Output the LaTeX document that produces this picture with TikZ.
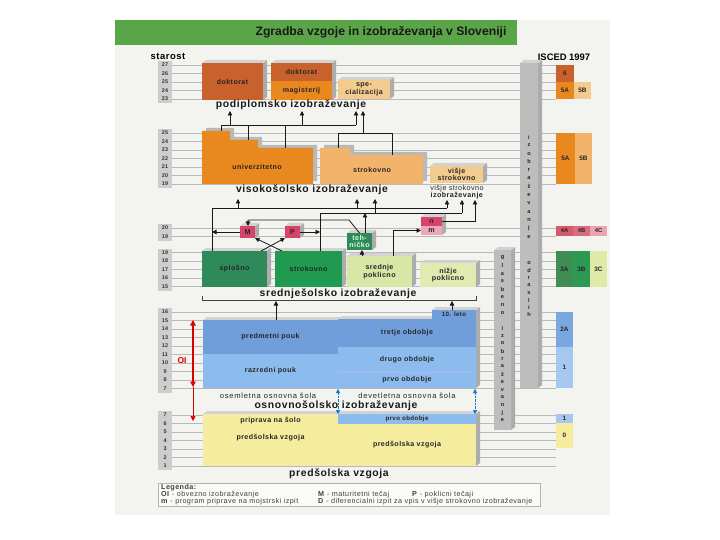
\documentclass[tikz,border=0pt]{standalone}
\usepackage{fontspec}
\setmainfont{Liberation Sans}
\newfontfamily\lbfont[LetterSpace=6]{Liberation Sans}
\newfontfamily\wdfont[LetterSpace=10]{Liberation Sans}
\usetikzlibrary{arrows.meta,calc}
\definecolor{scan}{HTML}{F3F3EF}
\definecolor{titlegreen}{HTML}{5AA548}
\definecolor{dko}{HTML}{C9612C}
\definecolor{oro}{HTML}{E9881F}
\definecolor{tan}{HTML}{F3CB8E}
\definecolor{lor}{HTML}{F1B46A}
\definecolor{pnk}{HTML}{D8436A}
\definecolor{pnkl}{HTML}{EEA6BA}
\definecolor{gdk}{HTML}{2F8A5A}
\definecolor{gmd}{HTML}{1F9A50}
\definecolor{yg}{HTML}{D8E6A6}
\definecolor{ygl}{HTML}{E0EBB2}
\definecolor{bdk}{HTML}{6F9EDB}
\definecolor{blt}{HTML}{8CBCEE}
\definecolor{ylw}{HTML}{F6EC9E}
\definecolor{barg}{HTML}{BDBDBD}
\definecolor{ageg}{HTML}{CDCDCD}
\definecolor{isb}{HTML}{A6C8F0}
\definecolor{isa}{HTML}{7AA7E0}
\definecolor{fA}{HTML}{D45A6E}
\definecolor{fB}{HTML}{D86D80}
\definecolor{fC}{HTML}{E9A3B3}
\definecolor{tA}{HTML}{3F8C55}
\definecolor{tB}{HTML}{2C9A52}
\definecolor{tC}{HTML}{DFE9A8}
\newcommand{\bxf}{\lbfont\bfseries\fontsize{7.1}{7.6}\selectfont}
\newcommand{\bigf}{\lbfont\bfseries\fontsize{10.4}{12}\selectfont}
\newcommand{\smf}{\lbfont\fontsize{7.2}{7.6}\selectfont}
\newcommand{\osf}{\wdfont\fontsize{7.6}{8}\selectfont}
\newcommand{\sideface}[4]{%
  \fill[gray!65] (#3,#2) -- (#3+4,#2-3) -- (#3+4,#4-3) -- (#3,#4) -- cycle;
  \fill[gray!35] (#1,#2) -- (#1+4,#2-3) -- (#3+4,#2-3) -- (#3,#2) -- cycle;}
\newcommand{\flatbox}[7]{%
  \node[bx, fill=#6, minimum width={(#4-(#2))*1pt}, minimum height={(#5-(#3))*1pt}] (#1) at (#2,#3) {#7};}
\newcommand{\bbox}[7]{\sideface{#2}{#3}{#4}{#5}\flatbox{#1}{#2}{#3}{#4}{#5}{#6}{#7}}
\tikzset{
  bx/.style={inner sep=0pt, outer sep=0pt, anchor=north west, align=center, font=\bxf, text=black!85},
  lbl/.style={inner sep=0pt, align=center, font=\bxf, text=black!85},
  big/.style={inner sep=0pt, font=\bigf, text=black!90},
  agef/.style={inner sep=0pt, font=\bfseries\fontsize{5.4}{6}\selectfont, text=black!80},
  grid/.style={draw=gray!55, line width=0.4pt},
  ln/.style={line width=0.8pt, draw=black!90},
  ar/.style={line width=0.8pt, draw=black!90, -{Triangle[length=4.5pt,width=4.5pt]}},
  vl/.style={inner sep=0pt, font=\bfseries\fontsize{5.6}{6}\selectfont, text=black!85},
  isf/.style={font=\bfseries\fontsize{6}{7}\selectfont},
  lgf/.style={inner sep=0pt, anchor=west, font=\smf, text=black!75}
}
\begin{document}
\begin{tikzpicture}[x=1pt,y=-1pt]
\useasboundingbox (0,0) rectangle (720,540);
\fill[white] (0,0) rectangle (720,540);
\fill[scan] (115,20) rectangle (610,515);
\fill[titlegreen] (115,20) rectangle (517,45);
\node[inner sep=0pt, font=\bfseries\fontsize{12.2}{14}\selectfont, text=black!90] (title) at (381,32.5) {Zgradba vzgoje in izobraževanja v Sloveniji};
\node[inner sep=0pt, font=\lbfont\bfseries\fontsize{9.4}{10}\selectfont] (starost) at (168,56.5) {starost};
\node[inner sep=0pt, font=\bfseries\fontsize{9.4}{10}\selectfont] (isced) at (564,57) {ISCED 1997};

% ---------- age columns and row lines
\fill[ageg] (158,61) rectangle (172,103);
\foreach \a [count=\i from 0] in {27,26,25,24,23}{
  \pgfmathsetmacro\yy{65+8.5*\i}
  \draw[grid] (172,\yy) -- (556,\yy);
  \node[agef] (ga\a) at (165,\yy) {\a};}
\fill[ageg] (158,129) rectangle (172,188);
\foreach \a [count=\i from 0] in {25,24,23,22,21,20,19}{
  \pgfmathsetmacro\yy{133+8.5*\i}
  \draw[grid] (172,\yy) -- (556,\yy);
  \node[agef] (gb\a) at (165,\yy) {\a};}
\fill[ageg] (158,224) rectangle (172,240.5);
\foreach \a [count=\i from 0] in {20,19}{
  \pgfmathsetmacro\yy{228+8.5*\i}
  \draw[grid] (172,\yy) -- (556,\yy);
  \node[agef] (gc\a) at (165,\yy) {\a};}
\fill[ageg] (158,248.5) rectangle (172,290.5);
\foreach \a [count=\i from 0] in {19,18,17,16,15}{
  \pgfmathsetmacro\yy{252.5+8.5*\i}
  \draw[grid] (172,\yy) -- (556,\yy);
  \node[agef] (gd\a) at (165,\yy) {\a};}
\fill[ageg] (158,308) rectangle (172,392.5);
\foreach \a [count=\i from 0] in {16,15,14,13,12,11,10,9,8,7}{
  \pgfmathsetmacro\yy{312+8.5*\i}
  \draw[grid] (172,\yy) -- (556,\yy);
  \node[agef] (ge\a) at (165,\yy) {\a};}
\fill[ageg] (158,411) rectangle (172,470);
\foreach \a [count=\i from 0] in {7,6,5,4,3,2,1}{
  \pgfmathsetmacro\yy{415+8.5*\i}
  \draw[grid] (172,\yy) -- (556,\yy);
  \node[agef] (gf\a) at (165,\yy) {\a};}

% ---------- podiplomsko
\bbox{dok1}{202}{63}{263}{100}{dko}{doktorat}
\bbox{mag}{271}{81}{332}{100}{oro}{magisterij}
\bbox{dok2}{271}{63}{332}{81}{dko}{doktorat}
\bbox{spec}{338}{80}{390}{99}{tan}{spe-\\cializacija}
\node[big] (podipl) at (291,104.5) {podiplomsko izobraževanje};

% ---------- visokošolsko
\fill[gray!55, shift={(4,-3)}] (202,184) -- (202,131) -- (230,131) -- (230,140) -- (258,140) -- (258,148) -- (313,148) -- (313,184) -- cycle;
\fill[oro] (202,184) -- (202,131) -- (230,131) -- (230,140) -- (258,140) -- (258,148) -- (313,148) -- (313,184) -- cycle;
\node[lbl] (univ) at (257,167) {univerzitetno};
\fill[gray!55, shift={(4,-3)}] (320,184) -- (320,148) -- (350,148) -- (350,155) -- (423,155) -- (423,184) -- cycle;
\fill[lor] (320,184) -- (320,148) -- (350,148) -- (350,155) -- (423,155) -- (423,184) -- cycle;
\node[lbl] (strok) at (372,170) {strokovno};
\bbox{visje}{430}{166}{483}{183}{tan}{višje\\strokovno}
\node[lbl, font=\smf] (visjelbl) at (457,192) {višje strokovno\\[-0.5pt]\textbf{izobraževanje}};
\node[big] (visok) at (312,190) {visokošolsko izobraževanje};

% connectors to podiplomsko
\coordinate (pA) at (230,111); \coordinate (pB) at (302,111);
\coordinate (pC) at (356,111); \coordinate (pD) at (363,111);
\coordinate (u1) at (221,131); \coordinate (u2) at (248,140); \coordinate (u3) at (285,148);
\coordinate (hU) at (221,125);
\draw[ln] (u1) -- (hU) -- (pC |- hU);
\draw[ln] (u2) -- (u2 |- hU);
\draw[ln] (u3) -- (u3 |- hU);
\draw[ar] (pA |- hU) -- (pA);
\draw[ar] (pB |- hU) -- (pB);
\draw[ar] (pC |- hU) -- (pC);
\coordinate (s1) at (338,148); \coordinate (s2) at (392,155); \coordinate (hS) at (338,133);
\draw[ln] (s1) -- (hS) -- (s2 |- hS) -- (s2);
\draw[ar] (pD |- hS) -- (pD);

% ---------- srednješolsko
\bbox{M}{240}{226}{255}{238}{pnk}{M}
\bbox{P}{285}{226}{300}{238}{pnk}{P}
\bbox{splosno}{202}{251}{267}{287}{gdk}{splošno}
\bbox{sstrok}{275}{251}{342}{287}{gmd}{strokovno}
\bbox{tehn}{347}{233}{372}{250}{gdk}{\textcolor{white!85!green}{teh-}\\\textcolor{white!85!green}{ničko}}
\bbox{sredp}{347}{256}{412}{287}{yg}{srednje\\poklicno}
\bbox{nizje}{420}{263}{476}{287}{ygl}{nižje\\poklicno}
\sideface{421}{217}{442}{235}
\flatbox{nn}{421}{217}{442}{226}{pnk}{n}
\flatbox{mm}{421}{226}{442}{235}{pnkl}{m}
\node[big] (sredn) at (338,294) {srednješolsko izobraževanje};

\coordinate (vA) at (238,199); \coordinate (vB) at (357,199); \coordinate (vC) at (375,199);
\coordinate (vD) at (447,200); \coordinate (vE) at (462,200); \coordinate (vF) at (475,200);
\coordinate (h1a) at (212,208); \coordinate (h1b) at (447,208);
\coordinate (h2a) at (320,213); \coordinate (h2b) at (462,213);
\draw[ln] (splosno.north -| h1a) -- (h1a) -- (h1b);
\draw[ar] (vA |- h1a) -- (vA);
\draw[ar] (vB |- h1a) -- (vB);
\draw[ar] (h1b) -- (vD);
\draw[ln] (sstrok.north -| h2a) -- (h2a) -- (h2b);
\draw[ar] (vC |- h2a) -- (vC);
\draw[ar] (h2b) -- (vE);
\coordinate (t1) at (365,213);
\draw[ar] (tehn.north -| t1) -- (t1);
\draw[ar] (nn.east) -| (vF);
\coordinate (sm) at (393,230);
\draw[ar] (sredp.north -| sm) |- (mm.west);
\coordinate (x362) at (362,250);
\draw[ar] (sredp.north -| x362) -- (x362);
\coordinate (tm1) at (349,220); \coordinate (tm2) at (248,220);
\draw[ar] (tehn.north) -- (tm1) -- (tm2) -- (M.north -| tm2);
\draw[ar] (M.west) -- (M.west -| h1a);
\draw[ar] (P.east) -- (P.east -| h2a);
\draw[ar] ($(splosno.north east)+(-6,0)$) -- (P.south west);
\draw[ar] ($(sstrok.north west)+(7,0)$) -- (M.south east);
\coordinate (brL) at (202,296); \coordinate (brR) at (476,296);
\draw[line width=0.7pt, draw=black!75] (brL) -- ++(0,4) -- ($(brR)+(0,4)$) -- (brR);
\coordinate (br1) at (276,301); \coordinate (br2) at (452,301);

% ---------- osnovnošolsko
\sideface{203}{320}{338}{388}
\flatbox{pred}{203}{320}{338}{354}{bdk}{predmetni pouk}
\flatbox{razr}{203}{354}{338}{388}{blt}{razredni pouk}
\sideface{338}{319}{476}{388}
\sideface{432}{310}{476}{319}
\flatbox{tenth}{432}{310}{476}{319}{bdk}{\fontsize{6.2}{6.5}\selectfont 10. leto}
\flatbox{tretje}{338}{319}{476}{347}{bdk}{tretje obdobje}
\flatbox{drugo}{338}{347}{476}{372}{blt}{drugo obdobje}
\flatbox{prvo}{338}{372}{476}{388}{blt}{prvo obdobje}
\draw[white!70!blue, line width=0.4pt] (prvo.north west) -- (prvo.north east);
\draw[ar] (pred.north -| br1) -- (br1);
\draw[ar] (tenth.north -| br2) -- (br2);
\coordinate (oiT) at (193,320); \coordinate (oiB) at (193,387); \coordinate (oiE) at (193,421);
\draw[red!85!black, line width=1.1pt, {Triangle[length=5.5pt,width=5.5pt]}-{Triangle[length=5.5pt,width=5.5pt]}] (oiT) -- (oiB);
\draw[red!85!black, line width=0.5pt, -{Triangle[length=5pt,width=5pt]}] (oiB) -- (oiE);
\node[inner sep=0pt, font=\bfseries\fontsize{8.5}{9}\selectfont, text=red!85!black] (oi) at (182,361) {OI};
\node[lbl, font=\osf] (osem) at (268,395.5) {osemletna osnovna šola};
\node[lbl, font=\osf] (devet) at (407,395.5) {devetletna osnovna šola};
\node[big] (osn) at (336,405.5) {osnovnošolsko izobraževanje};

% ---------- predšolska
\sideface{203}{414}{338}{466}
\flatbox{prip}{203}{414}{338}{428}{ylw}{priprava na šolo}
\flatbox{predsl}{203}{428}{338}{466}{ylw}{predšolska vzgoja\\[12pt]~}
\sideface{338}{414}{476}{466}
\flatbox{prvo2}{338}{414}{476}{424}{blt}{\fontsize{6.2}{6.5}\selectfont prvo obdobje}
\flatbox{predsr}{338}{424}{476}{466}{ylw}{predšolska vzgoja}
\node[big] (preds) at (339,473.5) {predšolska vzgoja};
\coordinate (bl1) at (338,389); \coordinate (bl2) at (338,414);
\coordinate (bl3) at (475,389); \coordinate (bl4) at (475,414);
\draw[cyan!60!blue, line width=0.4pt, densely dotted, {Triangle[length=4pt,width=4pt]}-{Triangle[length=4pt,width=4pt]}] (bl1) -- (bl2);
\draw[cyan!60!blue, line width=0.4pt, densely dotted, {Triangle[length=4pt,width=4pt]}-{Triangle[length=4pt,width=4pt]}] (bl3) -- (bl4);

% ---------- vertical bars
\bbox{bar1}{520}{63}{538}{388}{barg}{}
\bbox{bar2}{494}{250}{511}{430}{barg}{}
\foreach \ch [count=\i from 0] in {i,z,o,b,r,a,ž,e,v,a,n,j,e}{
  \node[vl] (ba\i) at (529,{137+8.3*\i}) {\ch};}
\foreach \ch [count=\i from 0] in {o,d,r,a,s,l,i,h}{
  \node[vl] (bb\i) at (529,{263+7.4*\i}) {\ch};}
\foreach \ch [count=\i from 0] in {g,l,a,s,b,e,n,o}{
  \node[vl] (bc\i) at (502.5,{258+7.8*\i}) {\ch};}
\foreach \ch [count=\i from 0] in {i,z,o,b,r,a,ž,e,v,a,n,j,e}{
  \node[vl] (bd\i) at (502.5,{328+7.7*\i}) {\ch};}

% ---------- ISCED
\flatbox{is6}{556}{65}{574}{82}{dko}{\normalfont\bfseries\fontsize{6.4}{7}\selectfont 6}
\flatbox{is5a}{556}{82}{574}{99}{oro}{\normalfont\bfseries\fontsize{6.4}{7}\selectfont 5A}
\flatbox{is5b}{574}{82}{591}{99}{tan}{\normalfont\bfseries\fontsize{6.4}{7}\selectfont 5B}
\flatbox{is5a2}{556}{133}{575}{184}{oro}{\normalfont\bfseries\fontsize{6.4}{7}\selectfont 5A}
\flatbox{is5b2}{575}{133}{592}{184}{lor}{\normalfont\bfseries\fontsize{6.4}{7}\selectfont 5B}
\flatbox{is4a}{556}{226}{573}{236}{fA}{\normalfont\bfseries\fontsize{5.8}{6}\selectfont 4A}
\flatbox{is4b}{573}{226}{590}{236}{fB}{\normalfont\bfseries\fontsize{5.8}{6}\selectfont 4B}
\flatbox{is4c}{590}{226}{607}{236}{fC}{\normalfont\bfseries\fontsize{5.8}{6}\selectfont 4C}
\flatbox{is3a}{556}{251}{573}{287}{tA}{\normalfont\bfseries\fontsize{6.4}{7}\selectfont 3A}
\flatbox{is3b}{573}{251}{590}{287}{tB}{\normalfont\bfseries\fontsize{6.4}{7}\selectfont 3B}
\flatbox{is3c}{590}{251}{607}{287}{tC}{\normalfont\bfseries\fontsize{6.4}{7}\selectfont 3C}
\flatbox{is2a}{556}{312}{573}{347}{isa}{\normalfont\bfseries\fontsize{6.4}{7}\selectfont 2A}
\flatbox{is1}{556}{347}{573}{388}{isb}{\normalfont\bfseries\fontsize{6.4}{7}\selectfont 1}
\flatbox{is1b}{556}{414}{573}{423}{isb}{\normalfont\bfseries\fontsize{6.4}{7}\selectfont 1}
\flatbox{is0}{556}{423}{573}{448}{ylw}{\normalfont\bfseries\fontsize{6.4}{7}\selectfont 0}

% ---------- legend
\node[draw=gray!60, fill=white!60!scan, line width=0.5pt, anchor=north west, minimum width=382pt, minimum height=23pt, inner sep=0pt] (legend) at (158,483) {};
\node[lgf] (lg0) at (161,487.5) {\textbf{Legenda:}};
\node[lgf] (lg1) at (161,495) {\textbf{OI} - obvezno izobraževanje};
\node[lgf] (lg2) at (161,502) {\textbf{m} - program priprave na mojstrski izpit};
\node[lgf] (lg3) at (318,495) {\textbf{M} - maturitetni tečaj};
\node[lgf] (lg4) at (412,495) {\textbf{P} - poklicni tečaji};
\node[lgf] (lg5) at (318,502) {\textbf{D} - diferencialni izpit za vpis v višje strokovno izobraževanje};
\end{tikzpicture}
\end{document}
